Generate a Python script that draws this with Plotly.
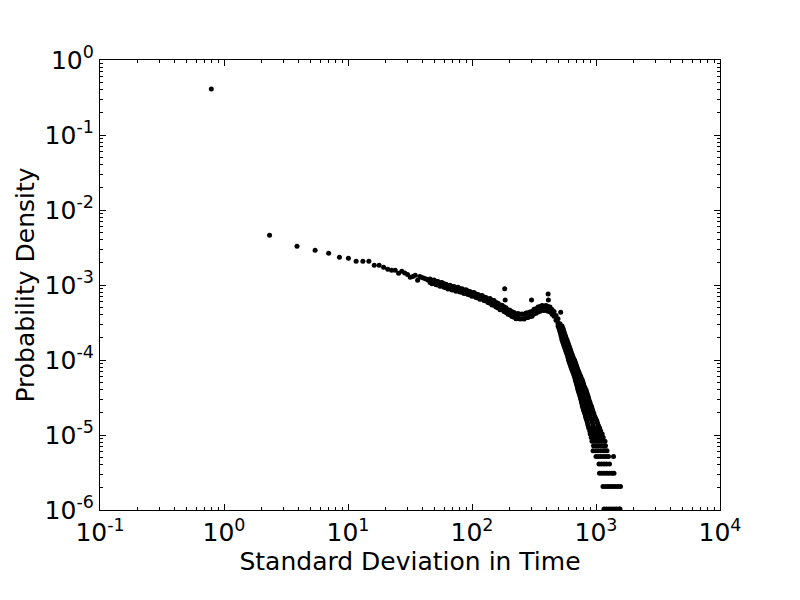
import plotly.graph_objects as go

# ---- data ----
# sparse head of the distribution (individual bins)
head_x = [0.79, 2.33, 3.88, 5.43, 6.98, 8.53, 10.08, 11.63, 13.18, 14.73, 16.28, 17.83,
          19.38, 20.93, 22.48, 24.03, 25.58, 27.13, 28.68, 30.23, 31.78, 33.33, 34.88,
          36.43, 37.98, 39.53, 41.08, 42.63, 44.18]
head_y = [0.41, 4.6e-3, 3.28e-3, 2.9e-3, 2.65e-3, 2.34e-3, 2.27e-3, 2.07e-3, 2.07e-3,
          2.07e-3, 1.83e-3, 1.83e-3, 1.72e-3, 1.62e-3, 1.57e-3, 1.57e-3, 1.43e-3, 1.52e-3,
          1.45e-3, 1.38e-3, 1.27e-3, 1.30e-3, 1.35e-3, 1.16e-3, 1.30e-3, 1.26e-3, 1.23e-3,
          1.20e-3, 1.17e-3]

# dense plateau: upper and lower edge of the band of points
plateau_x = [45.9, 47.6, 49.4, 51.3, 53.2, 55.2, 57.3, 59.5, 61.7, 64.0, 66.5, 69.0, 71.6,
             74.3, 77.1, 80.0, 83.1, 86.2, 89.5, 92.8, 96.4, 100, 103.8, 107.7, 111.8,
             116.0, 120.4, 125.0, 129.7, 134.6, 139.7, 145.0, 150.5, 156.1, 162.1, 168.2,
             174.6, 181.2, 188.0, 195.2, 202.5, 210.2, 218.2, 226.4, 235.0, 243.9, 253.1,
             262.7, 272.6, 282.9, 293.6, 304.8, 316.2, 328.2, 340.7, 353.5, 366.9, 380.7,
             395.3, 410.2, 425.6, 441.8, 458.6, 475.9, 493.9, 512.6]
plateau_hi = [1.198e-3, 1.153e-3, 1.165e-3, 1.122e-3, 1.113e-3, 1.072e-3, 1.080e-3, 1.037e-3,
              1.025e-3, 9.84e-4, 9.92e-4, 9.58e-4, 9.52e-4, 9.20e-4, 9.32e-4, 9.01e-4,
              8.90e-4, 8.57e-4, 8.63e-4, 8.32e-4, 8.22e-4, 7.89e-4, 7.92e-4, 7.60e-4,
              7.49e-4, 7.20e-4, 7.22e-4, 6.92e-4, 6.82e-4, 6.52e-4, 6.61e-4, 6.25e-4,
              6.20e-4, 5.86e-4, 5.70e-4, 5.40e-4, 5.38e-4, 5.13e-4, 4.98e-4, 4.69e-4,
              4.61e-4, 4.40e-4, 4.30e-4, 4.10e-4, 4.17e-4, 4.07e-4, 4.11e-4, 4.06e-4,
              4.23e-4, 4.25e-4, 4.37e-4, 4.44e-4, 4.74e-4, 4.84e-4, 5.07e-4, 5.15e-4,
              5.33e-4, 5.26e-4, 5.31e-4, 5.15e-4, 5.09e-4, 4.71e-4, 4.44e-4, 3.93e-4,
              3.55e-4, 3.04e-4]
plateau_lo = [1.076e-3, 1.036e-3, 1.047e-3, 1.008e-3, 1.000e-3, 9.64e-4, 9.70e-4, 9.32e-4,
              9.21e-4, 8.84e-4, 8.91e-4, 8.60e-4, 8.55e-4, 8.27e-4, 8.38e-4, 8.09e-4,
              8.00e-4, 7.70e-4, 7.76e-4, 7.47e-4, 7.38e-4, 7.09e-4, 7.12e-4, 6.83e-4,
              6.73e-4, 6.47e-4, 6.49e-4, 6.22e-4, 6.12e-4, 5.86e-4, 5.72e-4, 5.41e-4,
              5.37e-4, 5.07e-4, 4.93e-4, 4.67e-4, 4.66e-4, 4.44e-4, 4.31e-4, 4.06e-4,
              3.99e-4, 3.81e-4, 3.72e-4, 3.55e-4, 3.61e-4, 3.52e-4, 3.56e-4, 3.51e-4,
              3.66e-4, 3.68e-4, 3.79e-4, 3.84e-4, 4.10e-4, 4.19e-4, 4.38e-4, 4.46e-4,
              4.61e-4, 4.56e-4, 4.60e-4, 4.46e-4, 4.41e-4, 4.07e-4, 3.84e-4, 3.40e-4,
              3.08e-4, 2.63e-4]

# steep drop: for each density level, left / middle / right edge of the band
drop_y = [2.84e-4, 2.67e-4, 2.51e-4, 2.36e-4, 2.22e-4, 2.09e-4, 1.97e-4, 1.85e-4, 1.74e-4,
          1.63e-4, 1.54e-4, 1.45e-4, 1.36e-4, 1.28e-4, 1.20e-4, 1.13e-4, 1.06e-4, 1.00e-4,
          9.40e-5, 8.85e-5, 8.32e-5, 7.82e-5, 7.36e-5, 6.92e-5, 6.51e-5, 6.12e-5, 5.75e-5,
          5.41e-5, 5.09e-5, 4.79e-5, 4.50e-5, 4.23e-5, 3.98e-5, 3.74e-5, 3.52e-5, 3.31e-5,
          3.11e-5, 2.93e-5, 2.75e-5, 2.59e-5, 2.44e-5, 2.29e-5, 2.15e-5, 2.03e-5, 1.91e-5]
drop_x_left = [493.9, 501.3, 507.9, 513.6, 519.3, 523.2, 528.9, 531.9, 538.9, 546.0, 553.1,
               560.4, 567.7, 575.1, 582.7, 590.3, 595.8, 600.2, 608.1, 616.1, 624.1, 632.3,
               640.6, 650.2, 659.9, 667.3, 676.0, 681.1, 688.7, 696.4, 704.2, 709.5, 716.1,
               724.1, 733.6, 741.8, 750.1, 757.1, 762.7, 771.3, 775.6, 784.3, 793.1, 803.5,
               814.0]
drop_x_mid = [512.6, 520.3, 527.1, 532.9, 538.9, 545.0, 551.1, 557.2, 564.5, 571.9, 579.4,
              587.0, 594.7, 602.5, 610.3, 618.3, 626.5, 634.7, 643.0, 651.4, 659.9, 668.5,
              677.3, 687.4, 697.7, 708.2, 717.4, 726.8, 735.0, 743.2, 751.5, 761.3, 771.3,
              780.0, 790.2, 799.0, 808.0, 815.5, 824.8, 834.0, 843.4, 852.7, 862.3, 873.6,
              885.0]
drop_x_right = [531.9, 539.9, 547.0, 553.1, 559.3, 567.7, 574.1, 583.7, 591.4, 599.1, 607.0,
                614.9, 623.0, 631.1, 639.4, 647.8, 658.7, 671.0, 679.8, 688.7, 697.7, 706.8,
                716.1, 726.8, 737.7, 751.5, 761.3, 775.6, 784.3, 793.1, 802.0, 817.0, 830.9,
                840.2, 851.2, 860.7, 870.3, 878.5, 891.6, 901.6, 916.7, 927.1, 937.5, 949.7,
                962.1]

# quantised tail: density level (n counts) and the x positions seen on that level
tail_levels = [1.751e-5, 1.648e-5, 1.545e-5, 1.442e-5, 1.339e-5, 1.236e-5, 1.133e-5,
               1.03e-5, 9.27e-6, 8.24e-6, 7.21e-6, 6.18e-6, 5.15e-6, 4.12e-6, 3.09e-6,
               2.06e-6, 1.03e-6]
tail_rows = [
    [823.1, 898.2, 980.2],
    [834.0, 911.8, 996.6],
    [843.4, 925.4, 1015],
    [854.3, 937.5, 1028],
    [862.3, 949.7, 1046],
    [873.6, 919.4, 967.5, 1018, 1071],
    [889.9, 936.6, 985.6, 1037, 1091],
    [898.2, 949.7, 1004, 1061, 1122],
    [915.0, 967.5, 1023, 1081, 1143],
    [928.8, 986.5, 1048, 1112, 1182],
    [955.0, 1000, 1048, 1097, 1150, 1193],
    [946.2, 991.1, 1038, 1087, 1139, 1182, 1227],
    [1000, 1048, 1097, 1150, 1204, 1262, 1384],
    [1057, 1107, 1160, 1215, 1285],
    [1067, 1118, 1171, 1227, 1285, 1346, 1397],
    [1139, 1193, 1250, 1309, 1371, 1436, 1505, 1577],
    [1160, 1215, 1273, 1333, 1397, 1463, 1533, 1562],
]

# isolated outliers above the curve
outlier_x = [183.5, 185.1, 302, 411, 413, 519]
outlier_y = [8.9e-4, 6.3e-4, 6.3e-4, 7.6e-4, 6.3e-4, 4.33e-4]

major_ticks = [1e-1, 1e0, 1e1, 1e2, 1e3, 1e4]
major_labels = ["10<sup>-1</sup>", "10<sup>0</sup>", "10<sup>1</sup>",
                "10<sup>2</sup>", "10<sup>3</sup>", "10<sup>4</sup>"]
y_ticks = [1e-6, 1e-5, 1e-4, 1e-3, 1e-2, 1e-1, 1e0]
y_labels = ["10<sup>-6</sup>", "10<sup>-5</sup>", "10<sup>-4</sup>",
            "10<sup>-3</sup>", "10<sup>-2</sup>", "10<sup>-1</sup>",
            "10<sup>0</sup>"]

# ---- assemble ----
xs, ys = [], []
xs += head_x; ys += head_y
xs += plateau_x; ys += plateau_hi
xs += plateau_x; ys += plateau_lo
for xl, xm, xr, yv in zip(drop_x_left, drop_x_mid, drop_x_right, drop_y):
    xs += [xl, xm, xr]; ys += [yv, yv, yv]
for lev, row in zip(tail_levels, tail_rows):
    xs += row; ys += [lev] * len(row)
xs += outlier_x; ys += outlier_y

x_minor = [m * 10.0 ** e for e in range(-1, 4) for m in range(2, 10)]
y_minor = [m * 10.0 ** e for e in range(-6, 0) for m in range(2, 10)]

fig = go.Figure(go.Scatter(x=xs, y=ys, mode="markers",
                           marker=dict(color="black", size=5, line=dict(width=0)),
                           hoverinfo="skip"))

font = dict(family="DejaVu Sans", size=25, color="black")
axis_common = dict(type="log", showline=True, linecolor="black", linewidth=1.3,
                   mirror="ticks", ticks="inside", ticklen=6, tickwidth=1,
                   tickcolor="black", showgrid=False, zeroline=False, tickfont=font)

fig.update_xaxes(**axis_common, range=[-1, 4], tickmode="array", tickvals=major_ticks,
                 ticktext=major_labels,
                 minor=dict(ticks="inside", ticklen=3, tickwidth=1, tickcolor="black",
                            tickmode="array", tickvals=x_minor, showgrid=False),
                 title=dict(text="Standard Deviation in Time", font=font, standoff=6))
fig.update_yaxes(**axis_common, range=[-6, 0], tickmode="array", tickvals=y_ticks,
                 ticktext=y_labels, ticklabelstandoff=0,
                 minor=dict(ticks="inside", ticklen=3, tickwidth=1, tickcolor="black",
                            tickmode="array", tickvals=y_minor, showgrid=False),
                 title=dict(text="Probability Density", font=font, standoff=2))

# the page body adds an 8px offset, so the figure is drawn 8px smaller
fig.update_layout(width=792, height=592, margin=dict(l=92, r=80, t=52, b=90),
                  paper_bgcolor="white", plot_bgcolor="white", showlegend=False,
                  font=font)

fig.write_html("out.html")
